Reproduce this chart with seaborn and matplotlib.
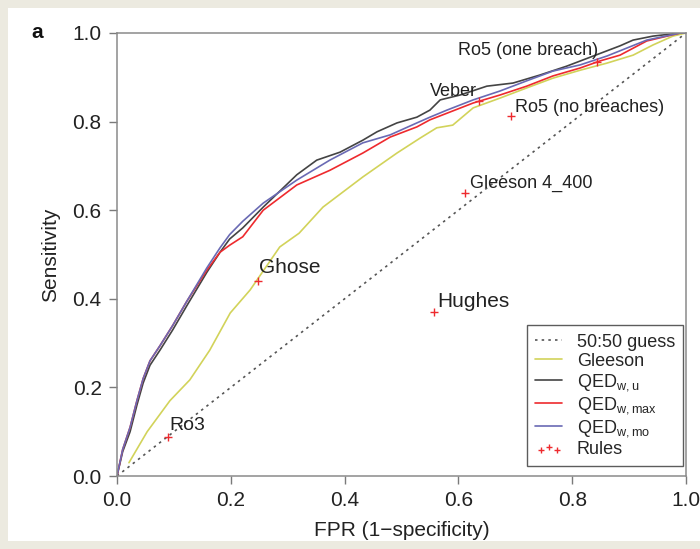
import matplotlib
matplotlib.use("Agg")
import matplotlib.pyplot as plt
import seaborn as sns
import pandas as pd
from matplotlib.patches import Rectangle

sns.set_theme(style="white")
plt.rcParams["font.family"] = ["Liberation Sans", "DejaVu Sans"]
plt.rcParams["mathtext.fontset"] = "custom"
plt.rcParams["mathtext.rm"] = "Liberation Sans"

# colours
GREY_DOT = "#555555"
YELLOW = "#D2D35A"
DARK = "#444444"
RED = "#EE2A2E"
BLUE = "#6A6AB4"
BEIGE = "#ECEAE0"

# ----------------------------------------------------------------------
# data
# ----------------------------------------------------------------------
qed_u_fpr = [0, 0.01, 0.023, 0.035, 0.046, 0.058, 0.076, 0.098, 0.123, 0.158, 0.181,
             0.198, 0.221, 0.257, 0.316, 0.351, 0.392, 0.432, 0.457, 0.492, 0.527,
             0.55, 0.568, 0.603, 0.65, 0.696, 0.743, 0.79, 0.837, 0.884, 0.907,
             0.942, 0.99, 1.0]
qed_u_tpr = [0, 0.055, 0.10, 0.16, 0.21, 0.25, 0.285, 0.33, 0.385, 0.46, 0.505,
             0.535, 0.56, 0.607, 0.68, 0.713, 0.731, 0.758, 0.777, 0.797, 0.81,
             0.826, 0.849, 0.86, 0.88, 0.887, 0.905, 0.925, 0.948, 0.971, 0.984,
             0.993, 1.0, 1.0]

qed_mo_fpr = [0, 0.01, 0.023, 0.035, 0.046, 0.058, 0.076, 0.098, 0.123, 0.158, 0.181,
              0.198, 0.221, 0.257, 0.316, 0.374, 0.432, 0.48, 0.527, 0.55, 0.58,
              0.626, 0.673, 0.72, 0.766, 0.814, 0.861, 0.896, 0.931, 0.99, 1.0]
qed_mo_tpr = [0, 0.06, 0.11, 0.17, 0.22, 0.26, 0.295, 0.34, 0.395, 0.47, 0.515,
              0.545, 0.575, 0.616, 0.668, 0.713, 0.752, 0.77, 0.797, 0.81, 0.826,
              0.849, 0.869, 0.892, 0.914, 0.928, 0.948, 0.966, 0.984, 1.0, 1.0]

qed_max_fpr = [0, 0.01, 0.023, 0.035, 0.046, 0.058, 0.076, 0.098, 0.123, 0.158, 0.181,
               0.198, 0.221, 0.257, 0.316, 0.374, 0.432, 0.48, 0.527, 0.55, 0.58,
               0.626, 0.673, 0.72, 0.766, 0.814, 0.849, 0.884, 0.931, 0.99, 1.0]
qed_max_tpr = [0, 0.06, 0.11, 0.17, 0.22, 0.26, 0.295, 0.34, 0.395, 0.465, 0.505,
               0.521, 0.54, 0.60, 0.657, 0.69, 0.729, 0.765, 0.788, 0.804, 0.819,
               0.842, 0.86, 0.88, 0.903, 0.921, 0.937, 0.95, 0.982, 1.0, 1.0]

gleeson_fpr = [0.021, 0.053, 0.093, 0.128, 0.163, 0.199, 0.234, 0.286, 0.32, 0.362,
               0.432, 0.492, 0.533, 0.562, 0.59, 0.626, 0.673, 0.72, 0.766, 0.814,
               0.861, 0.907, 0.942, 0.977, 1.0]
gleeson_tpr = [0.03, 0.10, 0.17, 0.217, 0.284, 0.368, 0.42, 0.517, 0.548, 0.607,
               0.675, 0.729, 0.763, 0.786, 0.792, 0.831, 0.853, 0.876, 0.898, 0.916,
               0.932, 0.95, 0.973, 0.993, 1.0]

guess_fpr = [0, 1]
guess_tpr = [0, 1]

rule_names = ["Ro3", "Ghose", "Hughes", "Gleeson 4_400", "Ro5 (no breaches)",
              "Veber", "Ro5 (one breach)"]
rule_fpr = [0.0896, 0.248, 0.557, 0.612, 0.692, 0.636, 0.844]
rule_tpr = [0.088, 0.44, 0.37, 0.639, 0.813, 0.846, 0.934]

# label placement (pixel offsets, alignment, size)
label_style = {
    "Ro3": (1, 12, "left", 14),
    "Ghose": (1, 14, "left", 15),
    "Hughes": (3, 11, "left", 15),
    "Gleeson 4_400": (5, 10, "left", 13),
    "Ro5 (no breaches)": (4, 8, "left", 13),
    "Veber": (-2, 10, "right", 13),
    "Ro5 (one breach)": (1, 12, "right", 13),
}

rules = pd.DataFrame({"name": rule_names, "fpr": rule_fpr, "tpr": rule_tpr})

# ----------------------------------------------------------------------
# figure
# ----------------------------------------------------------------------
fig = plt.figure(figsize=(7.0, 5.49), dpi=100)
fig.patch.set_facecolor(BEIGE)
fig.patches.append(Rectangle((8 / 700, 8 / 549), 1, 1 - 16 / 549,
                             transform=fig.transFigure, facecolor="white",
                             edgecolor="none", zorder=-10))
ax = fig.add_axes([117 / 700, 73 / 549, 569 / 700, 443 / 549])
ax.set_facecolor("white")

sns.lineplot(x=guess_fpr, y=guess_tpr, ax=ax, color=GREY_DOT, linestyle=(0, (1.5, 2.5)),
             linewidth=1.2, label="50:50 guess")
sns.lineplot(x=gleeson_fpr, y=gleeson_tpr, ax=ax, color=YELLOW, linewidth=1.2,
             sort=False, estimator=None, label="Gleeson")
sns.lineplot(x=qed_u_fpr, y=qed_u_tpr, ax=ax, color=DARK, linewidth=1.2,
             sort=False, estimator=None, label=r"QED$_{\mathregular{w,u}}$")
sns.lineplot(x=qed_max_fpr, y=qed_max_tpr, ax=ax, color=RED, linewidth=1.2,
             sort=False, estimator=None, label=r"QED$_{\mathregular{w,max}}$")
sns.lineplot(x=qed_mo_fpr, y=qed_mo_tpr, ax=ax, color=BLUE, linewidth=1.2,
             sort=False, estimator=None, label=r"QED$_{\mathregular{w,mo}}$")
sns.scatterplot(data=rules, x="fpr", y="tpr", ax=ax, marker="+", color=RED,
                s=30, linewidth=1.0, label="Rules", zorder=5)

for _, row in rules.iterrows():
    dx, dy, ha, fs = label_style[row["name"]]
    ax.annotate(row["name"], (row["fpr"], row["tpr"]), xytext=(dx, dy),
                textcoords="offset pixels", ha=ha, va="center", fontsize=fs,
                color="#222222", zorder=6)

ax.set_xlim(0, 1)
ax.set_ylim(0, 1)
ticks = [0.0, 0.2, 0.4, 0.6, 0.8, 1.0]
ax.set_xticks(ticks)
ax.set_yticks(ticks)
ax.set_xticklabels([f"{t:.1f}" for t in ticks])
ax.set_yticklabels([f"{t:.1f}" for t in ticks])
ax.tick_params(axis="both", which="both", direction="out", length=6, width=1,
               color="#7a7a7a", labelsize=15, labelcolor="#222222", pad=5,
               bottom=True, left=True)
for sp in ax.spines.values():
    sp.set_color("#8a8a8a")
    sp.set_linewidth(1.1)

ax.set_xlabel("FPR (1\u2212specificity)", fontsize=15, color="#222222", labelpad=8)
ax.set_ylabel("Sensitivity", fontsize=15, color="#222222", labelpad=9)

leg = ax.legend(loc="lower right", bbox_to_anchor=(0.995, 0.022), fontsize=13,
                frameon=True, fancybox=False, edgecolor="#333333",
                handlelength=1.5, handletextpad=0.8, borderpad=0.45,
                borderaxespad=0, labelspacing=0.12, scatterpoints=3,
                scatteryoffsets=[0.3, 0.6, 0.3], markerscale=0.8)
leg.get_frame().set_linewidth(1.0)

fig.text(37 / 700, 1 - 33 / 549, "a", ha="center", va="center", fontsize=15,
         fontweight="bold", color="#111111")

fig.savefig("out.png", dpi=100, facecolor=fig.get_facecolor())
